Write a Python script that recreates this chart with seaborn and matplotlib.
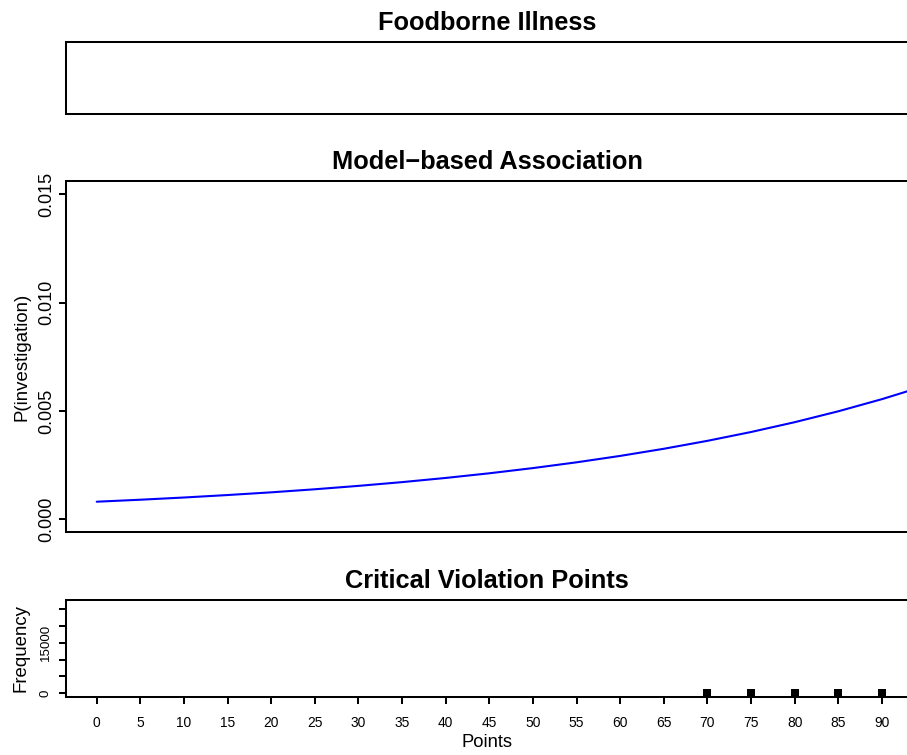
import matplotlib
matplotlib.use("Agg")
import matplotlib.pyplot as plt
import seaborn as sns

# Predicted probability of an investigation by inspection score
points = [0, 5, 10, 15, 20, 25, 30, 35, 40, 45, 50,
          55, 60, 65, 70, 75, 80, 85, 90, 95, 100]
p_investigation = [0.000812, 0.000904, 0.001006, 0.001120, 0.001245, 0.001386,
                   0.001543, 0.001716, 0.001909, 0.002124, 0.002364, 0.002630,
                   0.002926, 0.003255, 0.003622, 0.004029, 0.004482, 0.004985,
                   0.005545, 0.006167, 0.006859]

# Frequency of critical violation point totals
violation_points = [70, 75, 80, 85, 90]
violation_freq = [200, 200, 200, 200, 200]

# Axis ticks and labels
x_ticks = list(range(0, 91, 5))
prob_ticks = [0.0, 0.005, 0.010, 0.015]
prob_tick_labels = ["0.000", "0.005", "0.010", "0.015"]
freq_ticks = [0, 5000, 10000, 15000, 20000, 25000]
freq_tick_labels = ["0", "", "", "15000", "", ""]

titles = ["Foodborne Illness", "Model\u2212based Association", "Critical Violation Points"]

sns.set_theme(style="white")
plt.rcParams["font.family"] = ["Liberation Sans", "DejaVu Sans"]

W, H = 907, 755
DPI = 100
fig = plt.figure(figsize=(W / DPI, H / DPI), dpi=DPI)
fig.patch.set_facecolor("white")

LEFT, RIGHT = 65.5, 908.5
XLIM = (-3.58, 93.05)
FRAME_LW = 1.45


def add_panel(top, bottom):
    ax = fig.add_axes([LEFT / W, 1 - bottom / H, (RIGHT - LEFT) / W, (bottom - top) / H])
    ax.set_facecolor("white")
    for sp in ax.spines.values():
        sp.set_visible(True)
        sp.set_color("black")
        sp.set_linewidth(FRAME_LW)
    ax.grid(False)
    return ax


def add_title(text, top):
    fig.text(((LEFT + RIGHT) / 2) / W, 1 - (top - 12) / H, text,
             ha="center", va="baseline", fontsize=18.3, fontweight="bold", color="black")


# Top panel: empty frame
ax_top = add_panel(41.7, 114)
ax_top.set_xticks([])
ax_top.set_yticks([])
ax_top.set_xlim(*XLIM)
add_title(titles[0], 41.7)

# Middle panel: model curve
ax_mid = add_panel(181, 532)
sns.lineplot(x=points, y=p_investigation, color="blue", linewidth=1.5, ax=ax_mid)
ax_mid.set_xticks([])
ax_mid.set_yticks(prob_ticks)
ax_mid.set_yticklabels(prob_tick_labels, rotation=90, va="center", fontsize=13)
ax_mid.tick_params(axis="y", direction="out", length=5.4, width=FRAME_LW,
                   pad=2.2, colors="black", left=True)
ax_mid.set_xlim(*XLIM)
ax_mid.set_ylim(-0.000586, 0.015614)
ax_mid.set_xlabel("")
ax_mid.set_ylabel("")
add_title(titles[1], 181)
fig.text(22.5 / W, 1 - ((181 + 532) / 2) / H, "P(investigation)", rotation=90,
         ha="center", va="center", fontsize=13.4, color="black")

# Bottom panel: frequency of violation points
ax_bot = add_panel(600, 696.5)
sns.scatterplot(x=violation_points, y=violation_freq, marker="s", s=26,
                color="black", linewidth=0, ax=ax_bot)
ax_bot.set_xticks(x_ticks)
ax_bot.set_xticklabels([str(t) for t in x_ticks], fontsize=9.9)
ax_bot.set_yticks(freq_ticks)
ax_bot.set_yticklabels(freq_tick_labels, rotation=90, va="center", fontsize=9.6)
ax_bot.tick_params(axis="x", direction="out", length=5.2, width=FRAME_LW,
                   pad=8.8, colors="black", bottom=True)
ax_bot.tick_params(axis="y", direction="out", length=5.3, width=FRAME_LW,
                   pad=4.5, colors="black", left=True)
ax_bot.set_xlim(*XLIM)
ax_bot.set_ylim(-990, 27810)
ax_bot.set_xlabel("")
ax_bot.set_ylabel("")
add_title(titles[2], 600)
fig.text(21.5 / W, 1 - ((600 + 696.5) / 2) / H, "Frequency", rotation=90,
         ha="center", va="center", fontsize=13.4, color="black")
fig.text(((LEFT + RIGHT) / 2) / W, 1 - 742.5 / H, "Points",
         ha="center", va="center", fontsize=13.2, color="black")

fig.savefig("out.png", dpi=DPI, facecolor="white")
